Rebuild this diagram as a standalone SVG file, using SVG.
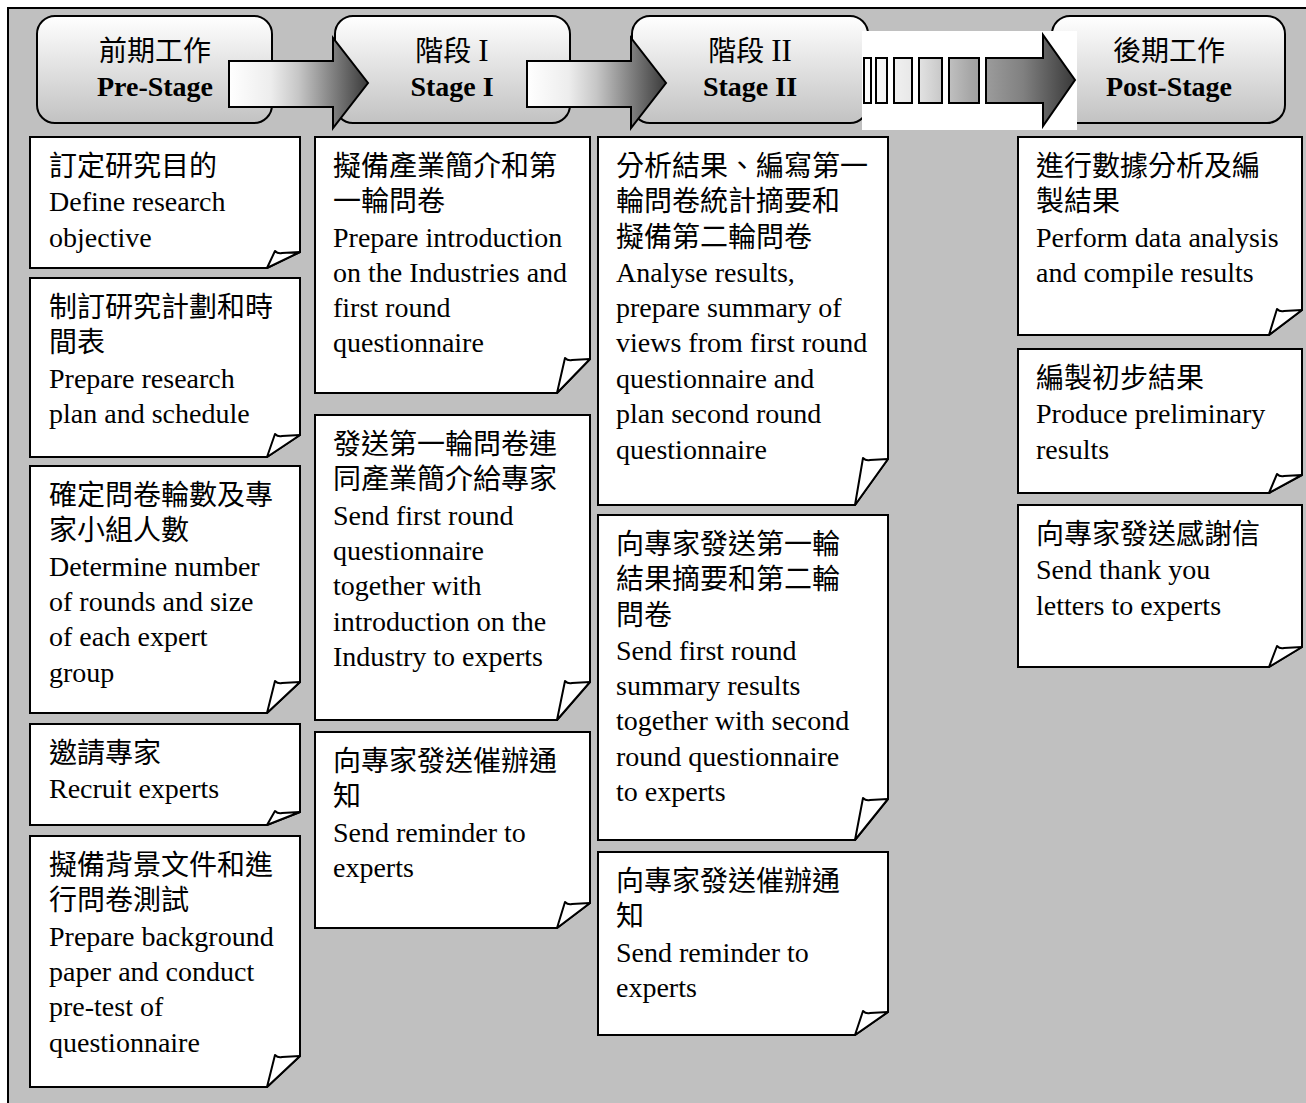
<svg xmlns="http://www.w3.org/2000/svg" width="1306" height="1103" viewBox="0 0 1306 1103">
<defs>
<linearGradient id="hg" x1="0" y1="0" x2="0" y2="1">
<stop offset="0" stop-color="#ffffff"/>
<stop offset="1" stop-color="#c2c2c2"/>
</linearGradient>
<linearGradient id="ag1" gradientUnits="userSpaceOnUse" x1="229" y1="0" x2="368" y2="0">
<stop offset="0" stop-color="#ffffff"/>
<stop offset="0.3" stop-color="#ededed"/>
<stop offset="0.5" stop-color="#c6c6c6"/>
<stop offset="0.75" stop-color="#808080"/>
<stop offset="1" stop-color="#3a3a3a"/>
</linearGradient>
<linearGradient id="ag2" gradientUnits="userSpaceOnUse" x1="527" y1="0" x2="666" y2="0">
<stop offset="0" stop-color="#ffffff"/>
<stop offset="0.3" stop-color="#ededed"/>
<stop offset="0.5" stop-color="#c6c6c6"/>
<stop offset="0.75" stop-color="#808080"/>
<stop offset="1" stop-color="#3a3a3a"/>
</linearGradient>
<linearGradient id="ag3" gradientUnits="userSpaceOnUse" x1="862" y1="0" x2="1077" y2="0">
<stop offset="0" stop-color="#ffffff"/>
<stop offset="0.25" stop-color="#e6e6e6"/>
<stop offset="0.5" stop-color="#a8a8a8"/>
<stop offset="0.75" stop-color="#808080"/>
<stop offset="1" stop-color="#363636"/>
</linearGradient>
</defs>
<style>
.hd{fill:url(#hg);stroke:#000;stroke-width:2}
.nt{fill:#fff;stroke:#000;stroke-width:2;stroke-linejoin:miter}
.fl{fill:#fff;stroke:#000;stroke-width:2;stroke-linejoin:round}
.ar{stroke:#000;stroke-width:2;stroke-linejoin:miter}
.t{font-family:"Liberation Serif","Noto Sans CJK TC",serif;font-size:28px;fill:#000}
.hc{font-family:"Liberation Serif","Noto Sans CJK TC",serif;font-size:28px;fill:#000;text-anchor:middle}
.hb{font-family:"Liberation Serif","Noto Sans CJK TC",serif;font-size:28px;font-weight:bold;fill:#000;text-anchor:middle}
.rn{font-size:31px}
</style>
<rect x="0" y="0" width="1306" height="1103" fill="#fff"/>
<rect x="8" y="8" width="1298" height="1095" fill="#c0c0c0"/>
<path d="M8,1103 V8 H1306" fill="none" stroke="#000" stroke-width="2"/>

<g id="h-pre">
<rect class="hd" x="37" y="16" width="235" height="107" rx="18"/>
<text class="hc" x="155" y="61">前期工作</text>
<text class="hb" x="155" y="96">Pre-Stage</text>
</g>
<g id="h-stage1">
<rect class="hd" x="335" y="16" width="235" height="107" rx="18"/>
<text class="hc" x="452" y="61">階段 <tspan class="rn">I</tspan></text>
<text class="hb" x="452" y="96">Stage I</text>
</g>
<g id="h-stage2">
<rect class="hd" x="632" y="16" width="236" height="107" rx="18"/>
<text class="hc" x="750" y="61">階段 <tspan class="rn">II</tspan></text>
<text class="hb" x="750" y="96">Stage II</text>
</g>
<g id="h-post">
<rect class="hd" x="1052" y="16" width="233" height="107" rx="18"/>
<text class="hc" x="1169" y="61">後期工作</text>
<text class="hb" x="1169" y="96">Post-Stage</text>
</g>

<g id="connectors">
<path class="ar" fill="url(#ag1)" d="M229,61 H333 V38 L368,83 L333,128 V107 H229 Z"/>
<path class="ar" fill="url(#ag2)" d="M527,61 H631 V38 L666,83 L631,128 V107 H527 Z"/>
<g id="arrow3">
<rect x="862" y="31" width="215" height="99" fill="#fff"/>
<rect class="ar" fill="url(#ag3)" x="864" y="58" width="7" height="45"/>
<rect class="ar" fill="url(#ag3)" x="876" y="58" width="11" height="45"/>
<rect class="ar" fill="url(#ag3)" x="894" y="58" width="18" height="45"/>
<rect class="ar" fill="url(#ag3)" x="919" y="58" width="23" height="45"/>
<rect class="ar" fill="url(#ag3)" x="949" y="58" width="30" height="45"/>
<path class="ar" fill="url(#ag3)" d="M986,58 H1043 V35 L1075,80 L1043,126 V103 H986 Z"/>
</g>
</g>

<g id="n1-1">
<path class="nt" d="M30,137 H300 V252 L267,268 H30 Z"/>
<path class="fl" d="M267,268 L275,251 Q278,254 282,253 L300,252 Z"/>
<text class="t"><tspan x="49" y="176">訂定研究目的</tspan><tspan x="49" y="211">Define research</tspan><tspan x="49" y="247">objective</tspan></text>
</g>
<g id="n1-2">
<path class="nt" d="M30,278 H300 V435 L267,457 H30 Z"/>
<path class="fl" d="M267,457 L275,434 Q278,437 282,436 L300,435 Z"/>
<text class="t"><tspan x="49" y="317">制訂研究計劃和時</tspan><tspan x="49" y="352">間表</tspan><tspan x="49" y="388">Prepare research</tspan><tspan x="49" y="423">plan and schedule</tspan></text>
</g>
<g id="n1-3">
<path class="nt" d="M30,466 H300 V682 L267,713 H30 Z"/>
<path class="fl" d="M267,713 L275,681 Q278,684 282,683 L300,682 Z"/>
<text class="t"><tspan x="49" y="505">確定問卷輪數及專</tspan><tspan x="49" y="540">家小組人數</tspan><tspan x="49" y="576">Determine number</tspan><tspan x="49" y="611">of rounds and size</tspan><tspan x="49" y="646">of each expert</tspan><tspan x="49" y="682">group</tspan></text>
</g>
<g id="n1-4">
<path class="nt" d="M30,724 H300 V812 L267,825 H30 Z"/>
<path class="fl" d="M267,825 L275,811 Q278,814 282,813 L300,812 Z"/>
<text class="t"><tspan x="49" y="763">邀請專家</tspan><tspan x="49" y="798">Recruit experts</tspan></text>
</g>
<g id="n1-5">
<path class="nt" d="M30,836 H300 V1056 L267,1087 H30 Z"/>
<path class="fl" d="M267,1087 L275,1055 Q278,1058 282,1057 L300,1056 Z"/>
<text class="t"><tspan x="49" y="875">擬備背景文件和進</tspan><tspan x="49" y="910">行問卷測試</tspan><tspan x="49" y="946">Prepare background</tspan><tspan x="49" y="981">paper and conduct</tspan><tspan x="49" y="1016">pre-test of</tspan><tspan x="49" y="1052">questionnaire</tspan></text>
</g>

<g id="n2-1">
<path class="nt" d="M315,137 H590 V359 L557,393 H315 Z"/>
<path class="fl" d="M557,393 L565,358 Q568,361 572,360 L590,359 Z"/>
<text class="t"><tspan x="333" y="176">擬備產業簡介和第</tspan><tspan x="333" y="211">一輪問卷</tspan><tspan x="333" y="247">Prepare introduction</tspan><tspan x="333" y="282">on the Industries and</tspan><tspan x="333" y="317">first round</tspan><tspan x="333" y="352">questionnaire</tspan></text>
</g>
<g id="n2-2">
<path class="nt" d="M315,415 H590 V682 L557,720 H315 Z"/>
<path class="fl" d="M557,720 L565,681 Q568,684 572,683 L590,682 Z"/>
<text class="t"><tspan x="333" y="454">發送第一輪問卷連</tspan><tspan x="333" y="489">同產業簡介給專家</tspan><tspan x="333" y="525">Send first round</tspan><tspan x="333" y="560">questionnaire</tspan><tspan x="333" y="595">together with</tspan><tspan x="333" y="631">introduction on the</tspan><tspan x="333" y="666">Industry to experts</tspan></text>
</g>
<g id="n2-3">
<path class="nt" d="M315,732 H590 V903 L557,928 H315 Z"/>
<path class="fl" d="M557,928 L565,902 Q568,905 572,904 L590,903 Z"/>
<text class="t"><tspan x="333" y="771">向專家發送催辦通</tspan><tspan x="333" y="806">知</tspan><tspan x="333" y="842">Send reminder to</tspan><tspan x="333" y="877">experts</tspan></text>
</g>

<g id="n3-1">
<path class="nt" d="M598,137 H888 V459 L855,505 H598 Z"/>
<path class="fl" d="M855,505 L863,458 Q866,461 870,460 L888,459 Z"/>
<text class="t"><tspan x="616" y="176">分析結果、編寫第一</tspan><tspan x="616" y="211">輪問卷統計摘要和</tspan><tspan x="616" y="247">擬備第二輪問卷</tspan><tspan x="616" y="282">Analyse results,</tspan><tspan x="616" y="317">prepare summary of</tspan><tspan x="616" y="352">views from first round</tspan><tspan x="616" y="388">questionnaire and</tspan><tspan x="616" y="423">plan second round</tspan><tspan x="616" y="459">questionnaire</tspan></text>
</g>
<g id="n3-2">
<path class="nt" d="M598,515 H888 V799 L855,840 H598 Z"/>
<path class="fl" d="M855,840 L863,798 Q866,801 870,800 L888,799 Z"/>
<text class="t"><tspan x="616" y="554">向專家發送第一輪</tspan><tspan x="616" y="589">結果摘要和第二輪</tspan><tspan x="616" y="625">問卷</tspan><tspan x="616" y="660">Send first round</tspan><tspan x="616" y="695">summary results</tspan><tspan x="616" y="730">together with second</tspan><tspan x="616" y="766">round questionnaire</tspan><tspan x="616" y="801">to experts</tspan></text>
</g>
<g id="n3-3">
<path class="nt" d="M598,852 H888 V1012 L855,1035 H598 Z"/>
<path class="fl" d="M855,1035 L863,1011 Q866,1014 870,1013 L888,1012 Z"/>
<text class="t"><tspan x="616" y="891">向專家發送催辦通</tspan><tspan x="616" y="926">知</tspan><tspan x="616" y="962">Send reminder to</tspan><tspan x="616" y="997">experts</tspan></text>
</g>

<g id="n4-1">
<path class="nt" d="M1018,137 H1302 V310 L1269,335 H1018 Z"/>
<path class="fl" d="M1269,335 L1277,309 Q1280,312 1284,311 L1302,310 Z"/>
<text class="t"><tspan x="1036" y="176">進行數據分析及編</tspan><tspan x="1036" y="211">製結果</tspan><tspan x="1036" y="247">Perform data analysis</tspan><tspan x="1036" y="282">and compile results</tspan></text>
</g>
<g id="n4-2">
<path class="nt" d="M1018,349 H1302 V475 L1269,493 H1018 Z"/>
<path class="fl" d="M1269,493 L1277,474 Q1280,477 1284,476 L1302,475 Z"/>
<text class="t"><tspan x="1036" y="388">編製初步結果</tspan><tspan x="1036" y="423">Produce preliminary</tspan><tspan x="1036" y="459">results</tspan></text>
</g>
<g id="n4-3">
<path class="nt" d="M1018,505 H1302 V647 L1269,667 H1018 Z"/>
<path class="fl" d="M1269,667 L1277,646 Q1280,649 1284,648 L1302,647 Z"/>
<text class="t"><tspan x="1036" y="544">向專家發送感謝信</tspan><tspan x="1036" y="579">Send thank you</tspan><tspan x="1036" y="615">letters to experts</tspan></text>
</g>
</svg>
